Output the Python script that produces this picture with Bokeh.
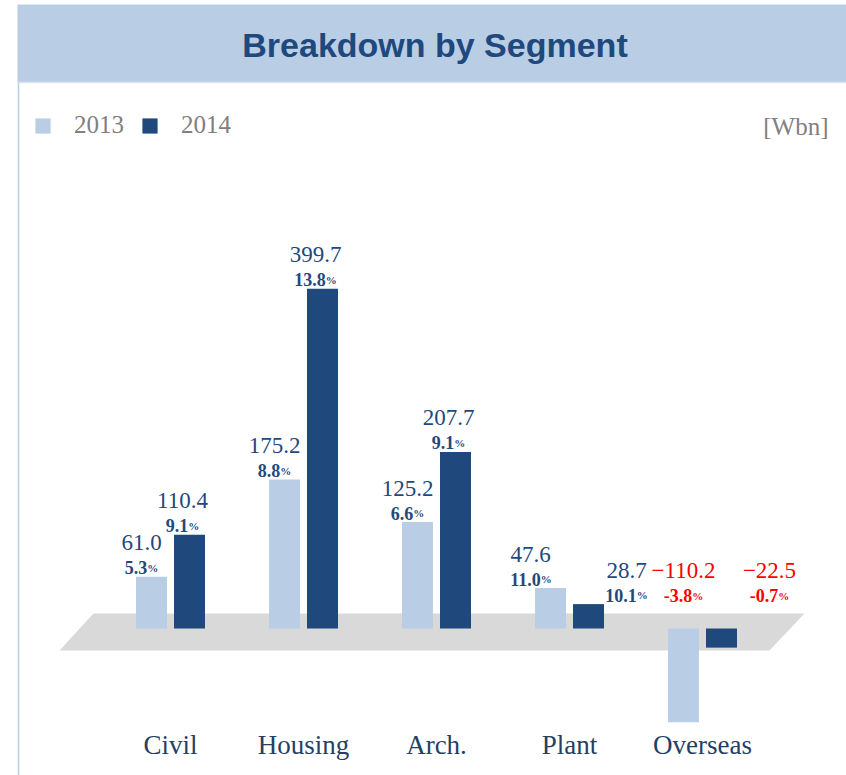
import numpy as np
from bokeh.plotting import figure
from bokeh.models import ColumnDataSource, Range1d, Legend, LegendItem, Label
from bokeh.transform import dodge
from bokeh.core.properties import value
from bokeh.embed import file_html
from bokeh.resources import INLINE

# ---------------- data ----------------
segments = ["Civil", "Housing", "Arch.", "Plant", "Overseas"]
years = ["2013", "2014"]
profit_2013 = [61.0, 175.2, 125.2, 47.6, -110.2]
profit_2014 = [110.4, 399.7, 207.7, 28.7, -22.5]
margin_2013 = [5.3, 8.8, 6.6, 11.0, -3.8]
margin_2014 = [9.1, 13.8, 9.1, 10.1, -0.7]
unit_label = "[Wbn]"
title_text = "Breakdown by Segment"

# ---------------- layout constants ----------------
W, H = 846, 775
K = 0.85                 # pixels per Wbn
BASE = 628               # canvas y of the zero line
STEP = 133.0             # pixels between segment centres
X_FIRST = 170.0          # canvas x of the first segment centre
BW = 31 / STEP           # bar width
OFF = 19 / STEP          # dodge of each year

x_start = -X_FIRST / STEP
x_end = x_start + W / STEP
y_start = -(H - BASE) / K
y_end = BASE / K


def xd(px):
    return x_start + px / STEP


def yd(py):
    return (BASE - py) / K


LIGHT = "#B9CDE5"
DARK = "#1F497D"
PLATFORM = "#D9D9D9"
RED = "#FF0000"
CAT_TXT = "#243F66"
GREY_TXT = "#808080"
SERIF = "Liberation Serif"

p = figure(width=W, height=H, x_range=Range1d(x_start, x_end),
           y_range=Range1d(y_start, y_end), x_axis_type=None, y_axis_type=None,
           output_backend="svg", toolbar_location=None, min_border=0,
           outline_line_color=None, background_fill_color="white",
           border_fill_color="white")

# header band and frame line
p.quad(left=xd(17), right=x_end + 1, top=yd(4), bottom=yd(81.5),
       fill_color=LIGHT, line_color=None)
p.segment(x0=xd(17), x1=x_end + 1, y0=yd(82), y1=yd(82),
          line_color="#DCE6F2", line_width=1.5)
p.segment(x0=xd(18), x1=xd(18), y0=yd(82), y1=y_start - 20,
          line_color=LIGHT, line_width=1.5)

p.add_layout(Label(x=xd(434.5), y=yd(44), text=title_text, text_align="center",
                   text_baseline="middle", text_font="Liberation Sans",
                   text_font_style="bold", text_font_size="34px", text_color=DARK))
p.add_layout(Label(x=xd(828), y=yd(126), text=unit_label, text_align="right",
                   text_baseline="middle", text_font=SERIF,
                   text_font_size="25px", text_color=GREY_TXT))

# pseudo-3D floor
p.patch(x=[xd(93), xd(804), xd(769), xd(59)],
        y=[yd(613), yd(613), yd(650), yd(650)],
        fill_color=PLATFORM, line_color=None)

idx = np.arange(len(segments))


def fmt_val(v):
    s = f"{abs(v):.1f}"
    return ("\u2212" + s) if v < 0 else s


def make_source(vals, margins, second):
    dx, dyv, dyp, vcol, vtxt, ptxt, pshift, ylab = [], [], [], [], [], [], [], []
    for v, m in zip(vals, margins):
        if second:
            d = (48 if v < 0 else 38) if abs(v) < 50 else -7
        else:
            d = 0 if v < 0 else (-20 if v < 50 else -10)
        dx.append(d)
        up = 24 if v < 0 else 0
        dyv.append(-34 - up)
        dyp.append(-9 - up)
        vcol.append(RED if v < 0 else DARK)
        vtxt.append(fmt_val(v))
        t = f"{m:.1f}"
        ptxt.append(t)
        wnum = sum(9 if c.isdigit() else (4.5 if c == "." else 6) for c in t)
        pshift.append(d + (wnum - 11) / 2)
        ylab.append(max(v, 0))
    return ColumnDataSource(dict(idx=idx, val=vals, dx=dx, dyv=dyv, dyp=dyp,
                                 vcol=vcol, vtxt=vtxt, ptxt=ptxt, pshift=pshift,
                                 ylab=ylab))


src13 = make_source(profit_2013, margin_2013, False)
src14 = make_source(profit_2014, margin_2014, True)

r13 = p.vbar(x=dodge("idx", -OFF), width=BW, bottom=0, top="val", source=src13,
             fill_color=LIGHT, line_color=None)
r14 = p.vbar(x=dodge("idx", OFF), width=BW, bottom=0, top="val", source=src14,
             fill_color=DARK, line_color=None)

for src, off in ((src13, -OFF), (src14, OFF)):
    p.text(x=dodge("idx", off), y="ylab", text="vtxt", x_offset="dx", y_offset="dyv",
           text_align="center", text_baseline="middle",
           text_font=value(SERIF), text_font_size="23px", text_color="vcol",
           source=src)
    p.text(x=dodge("idx", off), y="ylab", text="ptxt", x_offset="pshift", y_offset="dyp",
           text_align="right", text_baseline="middle",
           text_font=value(SERIF), text_font_style="bold", text_font_size="18px",
           text_color="vcol", source=src)
    p.text(x=dodge("idx", off), y="ylab", text=value("%"), x_offset="pshift", y_offset="dyp",
           text_align="left", text_baseline="middle",
           text_font=value(SERIF), text_font_style="bold", text_font_size="11px",
           text_color="vcol", source=src)

cat_src = ColumnDataSource(dict(idx=idx, seg=segments))
p.text(x="idx", y=yd(744), text="seg", text_align="center", text_baseline="middle",
       text_font=value(SERIF), text_font_size="27px", text_color=CAT_TXT, source=cat_src)

legend = Legend(items=[LegendItem(label=years[0], renderers=[r13]),
                       LegendItem(label=years[1], renderers=[r14])],
                orientation="horizontal", location=(33, 636),
                glyph_width=19, glyph_height=19, label_standoff=22, spacing=16,
                padding=0, margin=0, border_line_color=None,
                background_fill_alpha=0, label_text_font=SERIF,
                label_text_font_size="25px", label_text_color=GREY_TXT)
p.add_layout(legend)

open("out.html", "w").write(file_html(p, INLINE))
